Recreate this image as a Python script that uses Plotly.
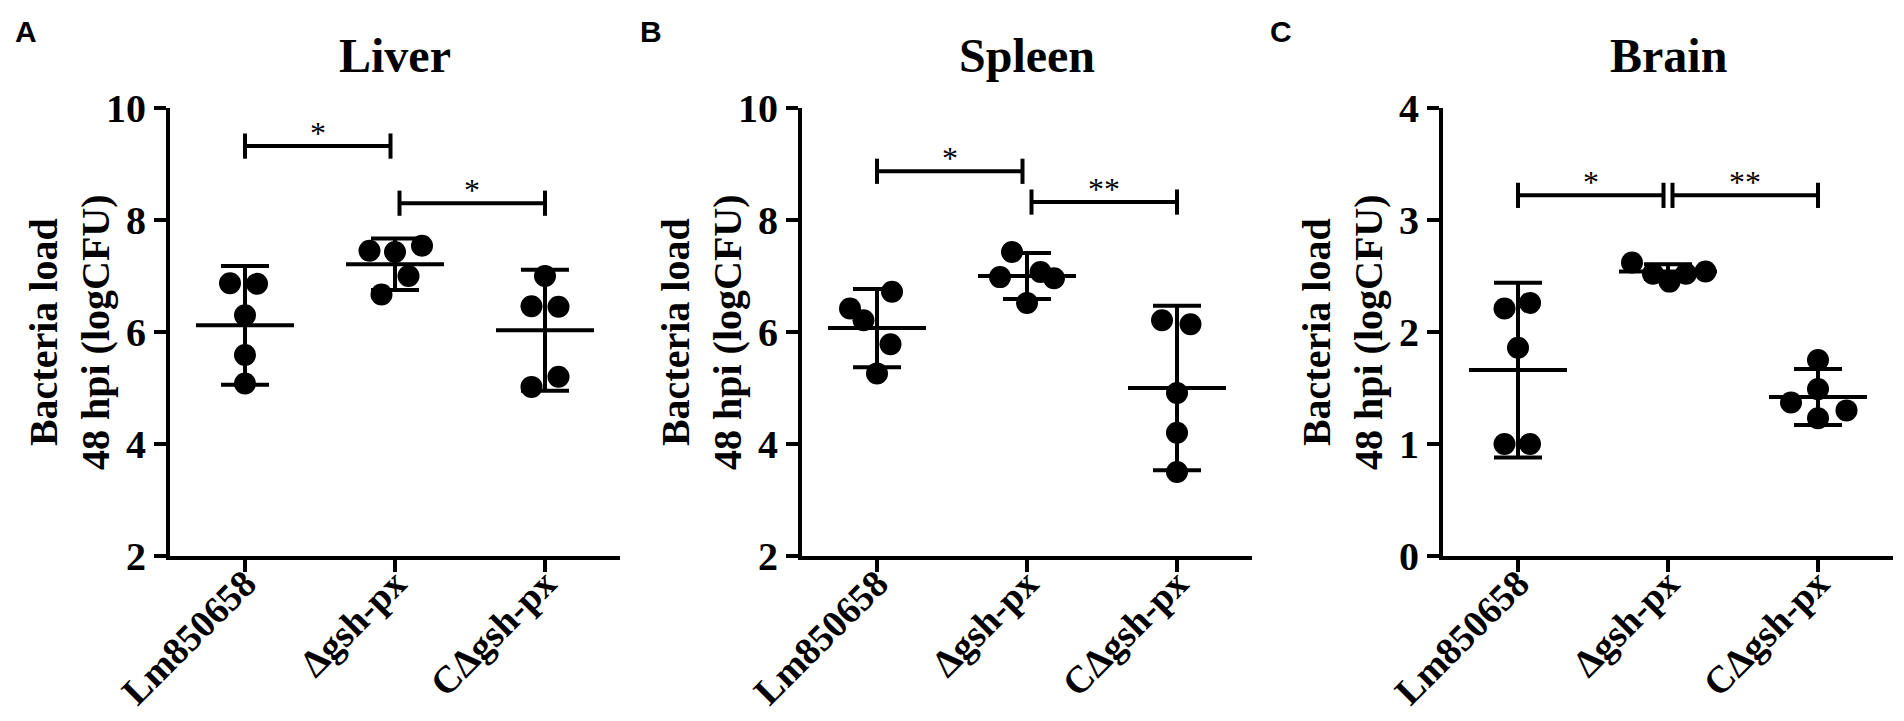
"""Bacteria load in liver, spleen and brain at 48 hpi"""
import plotly.graph_objects as go

groups = ["Lm850658", "Δgsh-px", "CΔgsh-px"]

# individual animals (logCFU) and their horizontal scatter offsets
liver_values = [[6.87, 6.86, 6.30, 5.59, 5.08],
                [7.45, 7.43, 7.54, 7.00, 6.67],
                [7.00, 6.46, 6.45, 5.20, 5.02]]
liver_offsets = [[-0.10, 0.08, 0, 0, 0],
                 [-0.17, 0, 0.18, 0.09, -0.09],
                 [0, -0.09, 0.09, 0.09, -0.09]]
liver_mean = [6.12, 7.21, 6.03]
liver_err = [1.06, 0.46, 1.08]
liver_brackets = [(0, 1, 9.32, "*"), (1, 2, 8.30, "*")]

spleen_values = [[6.42, 6.21, 6.72, 5.78, 5.26],
                 [7.43, 6.98, 7.07, 6.96, 6.52],
                 [6.21, 6.14, 4.91, 4.20, 3.50]]
spleen_offsets = [[-0.18, -0.09, 0.10, 0.09, 0],
                  [-0.10, -0.18, 0.09, 0.18, 0],
                  [-0.10, 0.09, 0, 0, 0]]
spleen_mean = [6.07, 7.00, 5.00]
spleen_err = [0.70, 0.41, 1.47]
spleen_brackets = [(0, 1, 8.87, "*"), (1, 2, 8.32, "**")]

brain_values = [[2.21, 2.26, 1.86, 1.00, 1.00],
                [2.62, 2.52, 2.45, 2.52, 2.54],
                [1.75, 1.49, 1.37, 1.30, 1.23]]
brain_offsets = [[-0.09, 0.08, 0, -0.09, 0.08],
                 [-0.24, -0.10, 0.01, 0.12, 0.25],
                 [0, 0, -0.18, 0.19, 0]]
brain_mean = [1.66, 2.54, 1.42]
brain_err = [0.78, 0.065, 0.25]
brain_brackets = [(0, 1, 3.22, "*"), (1, 2, 3.22, "**")]

# page is 1904x721; the html body adds an 8px margin round the figure
PAGE_MARGIN = 8
W, H = 1904 - 2 * PAGE_MARGIN, 721 - 2 * PAGE_MARGIN
PLOT_LEFT = [170, 802, 1443]
LETTER_LEFT = [13, 638, 1268]
PLOT_WIDTH = 450
PLOT_TOP, PLOT_BOTTOM = 108, 556
TRIM = 0.03

SERIF = "Liberation Serif"
SANS = "Liberation Sans"


def px(x):
    return (x - PAGE_MARGIN) / W


def py(y):
    return 1 - (y - PAGE_MARGIN) / H


def bold(size, family=SERIF):
    return dict(family=family, size=size, color="black", weight="bold")


def main():
    panels = [
        dict(title="Liver", letter="A", values=liver_values, offsets=liver_offsets,
             mean=liver_mean, err=liver_err, brackets=liver_brackets, yrange=[2, 10], dtick=2),
        dict(title="Spleen", letter="B", values=spleen_values, offsets=spleen_offsets,
             mean=spleen_mean, err=spleen_err, brackets=spleen_brackets, yrange=[2, 10], dtick=2),
        dict(title="Brain", letter="C", values=brain_values, offsets=brain_offsets,
             mean=brain_mean, err=brain_err, brackets=brain_brackets, yrange=[0, 4], dtick=1),
    ]
    fig = go.Figure()
    ydom = [py(PLOT_BOTTOM), py(PLOT_TOP)]
    for k, p in enumerate(panels):
        n = "" if k == 0 else str(k + 1)
        xref, yref = "x" + n, "y" + n
        x0 = PLOT_LEFT[k]
        for i, (vals, offs) in enumerate(zip(p["values"], p["offsets"])):
            fig.add_trace(go.Scatter(
                x=[i + o for o in offs], y=vals, mode="markers",
                marker=dict(size=22, color="black"),
                xaxis=xref, yaxis=yref, showlegend=False, hoverinfo="y"))
        fig.add_trace(go.Scatter(
            x=list(range(len(groups))), y=p["mean"], mode="markers",
            marker=dict(symbol="line-ew", size=70, color="black",
                        line=dict(width=4, color="black")),
            error_y=dict(type="data", array=p["err"], width=24, thickness=4, color="black"),
            xaxis=xref, yaxis=yref, showlegend=False))
        for a, b, h, label in p["brackets"]:
            xa = a + (TRIM if a == 1 else 0)
            xb = b - (TRIM if b == 1 else 0)
            fig.add_trace(go.Scatter(
                x=[xa, xb], y=[h, h], mode="lines+markers",
                line=dict(color="black", width=4),
                marker=dict(symbol="line-ns", size=18, color="black",
                            line=dict(width=4, color="black")),
                xaxis=xref, yaxis=yref, showlegend=False, hoverinfo="skip"))
            fig.add_annotation(
                x=(xa + xb) / 2, y=h, xref=xref, yref=yref, text=label,
                showarrow=False, yanchor="middle", yshift=13,
                font=dict(family=SERIF, size=32, color="black"))
        fig.layout["xaxis" + n] = dict(
            domain=[px(x0), px(x0 + PLOT_WIDTH)], anchor=yref, range=[-0.5, 2.5],
            automargin=False, tickmode="array", tickvals=list(range(len(groups))),
            ticktext=groups, tickangle=-45, ticklabelstandoff=-26,
            ticks="outside", ticklen=12, tickwidth=4, tickcolor="black",
            showline=True, linewidth=4, linecolor="black",
            showgrid=False, zeroline=False, tickfont=bold(38))
        fig.layout["yaxis" + n] = dict(
            domain=ydom, anchor=xref, range=p["yrange"], dtick=p["dtick"], automargin=False,
            ticks="outside", ticklen=12, tickwidth=4, tickcolor="black",
            showline=True, linewidth=4, linecolor="black",
            showgrid=False, zeroline=False, tickfont=bold(40))
        fig.add_annotation(
            x=px(x0 + PLOT_WIDTH / 2), y=py(56), xref="paper", yref="paper",
            text=p["title"], showarrow=False, xanchor="center", yanchor="middle",
            font=bold(48))
        fig.add_annotation(
            x=px(LETTER_LEFT[k]), y=py(31), xref="paper", yref="paper",
            text=p["letter"], showarrow=False, xanchor="left", yanchor="middle",
            font=bold(30, SANS))
        fig.add_annotation(
            x=px(x0 - 101), y=py(332), xref="paper", yref="paper",
            text="Bacteria load<br>48 hpi (logCFU)", showarrow=False, textangle=-90,
            xanchor="center", yanchor="middle", font=bold(40))
    fig.update_layout(
        width=W, height=H, margin=dict(l=0, r=0, t=0, b=0, pad=0, autoexpand=False),
        paper_bgcolor="white", plot_bgcolor="white", showlegend=False)
    fig.write_html("out.html")


if __name__ == "__main__":
    main()
